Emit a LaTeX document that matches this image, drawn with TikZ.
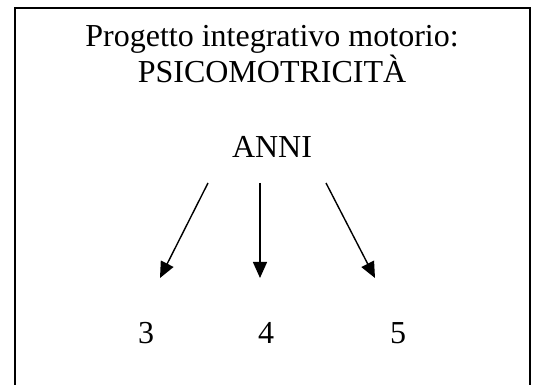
\documentclass[tikz,border=0pt]{standalone}
\usepackage{fontspec}
\setmainfont{Liberation Serif}
\usetikzlibrary{arrows.meta}
\begin{document}
\begin{tikzpicture}[x=1pt,y=-1pt,
  lbl/.style={anchor=base,inner sep=0pt,font=\fontsize{32}{38}\selectfont},
  arr/.style={line width=1.4pt,-{Triangle[length=16pt,width=14pt]}}]
\useasboundingbox (0,0) rectangle (539,385);
\draw[line width=2pt] (15,386) -- (15,8) -- (530,8) -- (530,386);
\node[lbl] (t1) at (272,47) {Progetto integrativo motorio:};
\node[lbl] (t2) at (272,83) {PSICOMOTRICITÀ};
\node[lbl] (anni) at (272,158) {ANNI};
\node[lbl] (n3) at (146,343) {3};
\node[lbl] (n4) at (266,343) {4};
\node[lbl] (n5) at (398,343) {5};
\coordinate (s3) at (208,183);
\coordinate (s4) at (260,183);
\coordinate (s5) at (326,183);
\coordinate (e3) at (160,278);
\coordinate (e4) at (260,278);
\coordinate (e5) at (375,278);
\draw[arr] (s3) -- (e3);
\draw[arr] (s4) -- (e4);
\draw[arr] (s5) -- (e5);
\end{tikzpicture}
\end{document}
